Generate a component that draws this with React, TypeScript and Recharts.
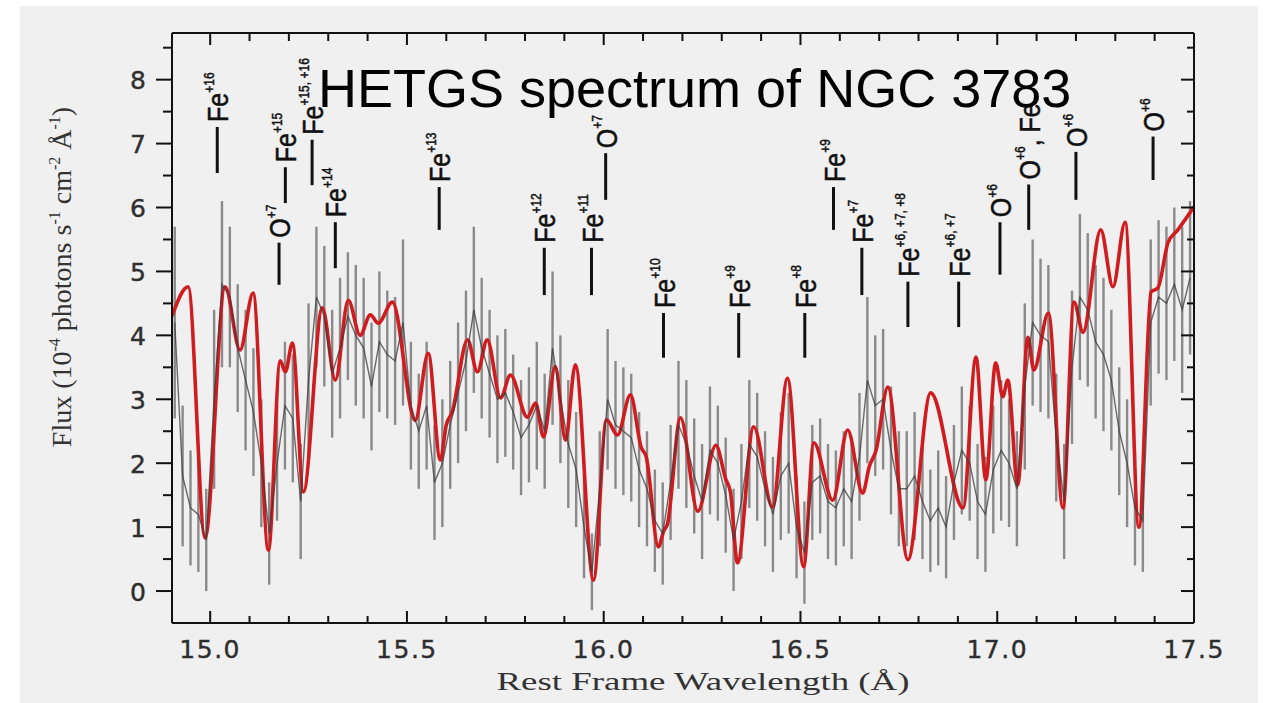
import { ComposedChart, ErrorBar, Line, ReferenceLine, XAxis, YAxis } from "recharts";

// measured spectrum, 0.02 A bins
const dataWave = [
  14.91, 14.93, 14.95, 14.97, 14.99, 15.01, 15.03, 15.05, 15.07, 15.09, 15.11, 15.13, 15.15, 15.17, 15.19, 15.21, 15.23, 15.25, 15.27, 15.29,
  15.31, 15.33, 15.35, 15.37, 15.39, 15.41, 15.43, 15.45, 15.47, 15.49, 15.51, 15.53, 15.55, 15.57, 15.59, 15.61, 15.63, 15.65, 15.67, 15.69,
  15.71, 15.73, 15.75, 15.77, 15.79, 15.81, 15.83, 15.85, 15.87, 15.89, 15.91, 15.93, 15.95, 15.97, 15.99, 16.01, 16.03, 16.05, 16.07, 16.09,
  16.11, 16.13, 16.15, 16.17, 16.19, 16.21, 16.23, 16.25, 16.27, 16.29, 16.31, 16.33, 16.35, 16.37, 16.39, 16.41, 16.43, 16.45, 16.47, 16.49,
  16.51, 16.53, 16.55, 16.57, 16.59, 16.61, 16.63, 16.65, 16.67, 16.69, 16.71, 16.73, 16.75, 16.77, 16.79, 16.81, 16.83, 16.85, 16.87, 16.89,
  16.91, 16.93, 16.95, 16.97, 16.99, 17.01, 17.03, 17.05, 17.07, 17.09, 17.11, 17.13, 17.15, 17.17, 17.19, 17.21, 17.23, 17.25, 17.27, 17.29,
  17.31, 17.33, 17.35, 17.37, 17.39, 17.41, 17.43, 17.45, 17.47, 17.49,
];
const dataFlux = [
  4.2, 1.8, 1.3, 1.2, 0.8, 3.0, 4.8, 4.6, 3.8, 3.3, 2.8, 2.0, 0.9, 2.0, 2.9, 2.7, 1.4, 3.3, 4.6, 4.3,
  3.4, 3.8, 4.3, 4.0, 3.8, 3.2, 3.9, 3.7, 3.6, 4.2, 2.9, 2.5, 2.9, 1.7, 2.0, 2.6, 3.1, 3.6, 4.4, 3.8,
  3.4, 3.0, 3.1, 2.8, 2.4, 2.6, 2.9, 2.5, 3.8, 3.0, 2.3, 1.9, 1.0, 0.3, 1.6, 3.0, 2.6, 2.5, 2.4, 1.9,
  1.6, 1.1, 0.9, 1.7, 2.6, 2.3, 1.8, 1.4, 2.2, 2.0, 1.5, 0.8, 1.4, 2.3, 2.1, 1.6, 1.2, 1.8, 2.0, 1.0,
  0.6, 1.7, 1.8, 1.4, 1.3, 1.6, 1.4, 2.1, 3.3, 2.9, 3.0, 2.2, 1.6, 1.6, 1.8, 1.4, 1.1, 1.3, 1.0, 1.7,
  2.2, 2.0, 1.4, 1.2, 1.9, 2.2, 2.0, 1.6, 3.2, 4.2, 4.0, 3.9, 2.4, 1.4, 3.5, 4.6, 4.4, 3.9, 3.7, 3.3,
  2.5, 2.0, 1.3, 1.1, 4.2, 4.6, 4.5, 4.8, 4.4, 4.9,
];
const dataErr = [
  1.5, 1.1, 0.9, 0.9, 0.8, 1.4, 1.3, 1.1, 1.0, 1.1, 1.0, 1.0, 0.8, 0.9, 1.0, 1.0, 0.9, 1.2, 1.1, 1.1,
  1.0, 1.1, 1.0, 1.1, 1.1, 1.0, 1.1, 1.0, 1.0, 1.3, 1.0, 0.9, 1.0, 0.9, 1.0, 1.0, 1.1, 1.1, 1.3, 1.1,
  1.0, 1.0, 1.0, 0.9, 0.9, 0.9, 1.0, 0.9, 1.2, 1.0, 1.0, 0.9, 0.8, 0.6, 0.9, 1.1, 1.0, 1.0, 1.0, 0.9,
  0.9, 0.8, 0.8, 0.9, 1.0, 1.0, 0.9, 0.9, 1.0, 0.9, 0.9, 0.8, 0.9, 1.0, 1.0, 0.9, 0.9, 1.0, 1.1, 0.8,
  0.8, 0.9, 0.9, 0.9, 0.9, 0.9, 0.9, 1.0, 1.3, 1.1, 1.1, 1.0, 0.9, 0.9, 1.0, 0.9, 0.8, 0.9, 0.8, 0.9,
  1.0, 0.9, 0.9, 0.9, 1.0, 1.1, 1.0, 0.9, 1.3, 1.3, 1.2, 1.2, 1.0, 0.9, 1.2, 1.3, 1.2, 1.2, 1.2, 1.1,
  1.0, 1.0, 0.9, 0.8, 1.3, 1.2, 1.2, 1.2, 1.3, 1.2,
];

// absorption model (red curve)
const modelWave = [
  14.903, 14.944, 14.987, 15.038, 15.076, 15.109, 15.148, 15.178, 15.191, 15.209, 15.237, 15.285, 15.318, 15.351, 15.381, 15.407, 15.427,
  15.463, 15.521, 15.554, 15.585, 15.6, 15.615, 15.654, 15.679, 15.704, 15.738, 15.763, 15.806, 15.827, 15.847, 15.877, 15.903, 15.928,
  15.974, 16.007, 16.035, 16.068, 16.095, 16.108, 16.139, 16.152, 16.162, 16.195, 16.239, 16.285, 16.31, 16.322, 16.34, 16.381, 16.429,
  16.467, 16.508, 16.534, 16.582, 16.62, 16.658, 16.675, 16.692, 16.722, 16.773, 16.831, 16.913, 16.946, 16.971, 16.996, 17.014, 17.027,
  17.052, 17.078, 17.093, 17.13, 17.167, 17.195, 17.218, 17.263, 17.294, 17.325, 17.36, 17.391, 17.408, 17.434, 17.459, 17.5,
];
const modelFlux = [
  4.3, 4.76, 0.83, 4.76, 3.77, 4.66, 0.64, 3.6, 3.43, 3.88, 1.55, 4.43, 3.3, 4.55, 4.0, 4.32, 4.19,
  4.52, 2.67, 3.72, 2.05, 2.6, 2.8, 3.93, 3.43, 3.93, 3.02, 3.38, 2.72, 2.94, 2.41, 3.51, 2.36, 3.54,
  0.17, 2.68, 2.44, 3.07, 2.25, 2.1, 0.69, 0.93, 1.05, 2.71, 1.25, 2.28, 1.75, 1.55, 0.44, 2.57, 1.31,
  3.33, 0.38, 2.32, 1.42, 2.52, 1.53, 1.95, 2.2, 3.19, 0.49, 3.1, 1.3, 3.66, 1.74, 3.57, 3.04, 3.3,
  1.66, 3.97, 3.46, 4.35, 1.3, 4.52, 4.05, 5.65, 4.76, 5.77, 1.0, 4.68, 4.74, 5.45, 5.65, 6.01,
];

// ion identifications
const ionNames = ["Fe", "O", "Fe", "Fe", "Fe", "Fe", "Fe", "Fe", "O", "Fe", "Fe", "Fe", "Fe", "Fe", "Fe", "Fe", "O", "O", "O", "O"];
const ionCharges = ["+16", "+7", "+15", "+15, +16", "+14", "+13", "+12", "+11", "+7", "+10", "+9", "+8", "+9", "+7", "+6, +7, +8", "+6, +7", "+6", "+6", "+6", "+6"];
const ionSuffix = ["", "", "", "", "", "", "", "", "", "", "", "", "", "", "", "", "", ", Fe", "", ""];
const ionWaves = [15.018, 15.175, 15.191, 15.259, 15.318, 15.582, 15.849, 15.969, 16.005, 16.152, 16.343, 16.511, 16.584, 16.656, 16.773, 16.902, 17.007, 17.08, 17.2, 17.396];
const ionTop = [7.26, 5.45, 6.63, 7.06, 5.77, 6.32, 5.37, 5.37, 6.85, 4.35, 4.35, 4.35, 6.32, 5.37, 4.84, 4.84, 5.77, 6.36, 6.87, 7.11];
const ionBottom = [6.54, 4.79, 6.07, 6.35, 5.05, 5.65, 4.63, 4.63, 6.12, 3.65, 3.65, 3.65, 5.65, 4.63, 4.13, 4.13, 4.95, 5.65, 6.12, 6.43];

const xTicks = [15.0, 15.1, 15.2, 15.3, 15.4, 15.5, 15.6, 15.7, 15.8, 15.9, 16.0, 16.1, 16.2, 16.3, 16.4, 16.5, 16.6, 16.7, 16.8, 16.9, 17.0, 17.1, 17.2, 17.3, 17.4, 17.5];
const yTicks = [0, 0.5, 1, 1.5, 2, 2.5, 3, 3.5, 4, 4.5, 5, 5.5, 6, 6.5, 7, 7.5, 8, 8.5];

const spectrum = dataWave.map((w, i) => ({ w, flux: dataFlux[i], err: dataErr[i] }));
const model = modelWave.map((w, i) => ({ w, flux: modelFlux[i] }));

const SANS = "'Liberation Sans', Arial, sans-serif";
const SERIF = "'Liberation Serif', 'Times New Roman', serif";
const TICKF = "'DejaVu Sans', sans-serif";
const INK = "#111";

const isMajorX = (v: number) => Math.abs(v * 2 - Math.round(v * 2)) < 1e-6;
const isMajorY = (v: number) => Math.abs(v - Math.round(v)) < 1e-6;

const BottomTick = ({ x, y, payload }: any) => {
  const major = isMajorX(payload.value);
  return (
    <g>
      <line x1={x} x2={x} y1={y} y2={y - (major ? 12 : 7)} stroke={INK} strokeWidth={2} />
      {major && (
        <text x={x} y={y + 35} textAnchor="middle" fontFamily={TICKF} fontSize={25} letterSpacing={1.5} fill="#2e2e2e" stroke="#2e2e2e" strokeWidth={0.4}>
          {payload.value.toFixed(1)}
        </text>
      )}
    </g>
  );
};

const TopTick = ({ x, y, payload }: any) => {
  const major = isMajorX(payload.value);
  return <line x1={x} x2={x} y1={y} y2={y + (major ? 12 : 8)} stroke={INK} strokeWidth={2} />;
};

const LeftTick = ({ x, y, payload }: any) => {
  const major = isMajorY(payload.value);
  return (
    <g>
      <line x1={x} x2={x - (major ? 16 : 9)} y1={y} y2={y} stroke={INK} strokeWidth={2} />
      {major && (
        <text x={x - 26} y={y + 9.5} textAnchor="end" fontFamily={TICKF} fontSize={25} fill="#2e2e2e" stroke="#2e2e2e" strokeWidth={0.4}>
          {payload.value}
        </text>
      )}
    </g>
  );
};

const RightTick = ({ x, y, payload }: any) => {
  const major = isMajorY(payload.value);
  return <line x1={x} x2={x - (major ? 13 : 7)} y1={y} y2={y} stroke={INK} strokeWidth={2} />;
};

function ionLabel(i: number) {
  return (p: any) => {
    const vb = p.viewBox || {};
    const x = vb.x ?? 0;
    const yTop = vb.y ?? 0;
    return (
      <text
        transform={`translate(${x + 11},${yTop - 5}) rotate(-90) scale(1,1.2)`}
        fontFamily={SANS}
        fontSize={25}
        fill={INK}
        stroke={INK}
        strokeWidth={0.4}
      >
        {ionNames[i]}
        <tspan fontSize={12} dy={-12}>{ionCharges[i]}</tspan>
        {ionSuffix[i] && <tspan fontSize={25} dy={12}>{ionSuffix[i]}</tspan>}
      </text>
    );
  };
}

export default function App() {
  return (
    <div style={{ position: "relative", width: 1263, height: 703, background: "#fff", overflow: "hidden" }}>
      <style>{"body{margin:0}"}</style>
      <div style={{ position: "absolute", left: 20, top: 6, width: 1238, height: 697, background: "#f0f0f0" }} />
      <div style={{ position: "absolute", left: 0, top: 0 }}>
        <ComposedChart width={1263} height={703} margin={{ top: 23, right: 59, bottom: 40, left: 112 }}>
          <XAxis
            dataKey="w"
            type="number"
            domain={[14.903, 17.5]}
            allowDataOverflow
            ticks={xTicks}
            interval={0}
            height={40}
            tickSize={0}
            tickMargin={0}
            tickLine={false}
            axisLine={{ stroke: INK, strokeWidth: 2 }}
            tick={<BottomTick />}
          />
          <XAxis
            xAxisId="top"
            orientation="top"
            dataKey="w"
            type="number"
            domain={[14.903, 17.5]}
            allowDataOverflow
            ticks={xTicks}
            interval={0}
            height={10}
            tickSize={0}
            tickMargin={0}
            tickLine={false}
            axisLine={{ stroke: INK, strokeWidth: 2 }}
            tick={<TopTick />}
          />
          <YAxis
            type="number"
            domain={[-0.5, 8.73]}
            allowDataOverflow
            ticks={yTicks}
            interval={0}
            width={60}
            tickSize={0}
            tickMargin={0}
            tickLine={false}
            axisLine={{ stroke: INK, strokeWidth: 2 }}
            tick={<LeftTick />}
          />
          <YAxis
            yAxisId="right"
            orientation="right"
            type="number"
            domain={[-0.5, 8.73]}
            allowDataOverflow
            ticks={yTicks}
            interval={0}
            width={10}
            tickSize={0}
            tickMargin={0}
            tickLine={false}
            axisLine={{ stroke: INK, strokeWidth: 2 }}
            tick={<RightTick />}
          />
          {/* error bars of the measured spectrum */}
          <Line data={spectrum} dataKey="flux" type="linear" stroke="none" dot={false} isAnimationActive={false}>
            <ErrorBar dataKey="err" direction="y" width={0} stroke="#8a8a8a" strokeWidth={2.4} />
          </Line>
          <Line
            xAxisId="top"
            yAxisId="right"
            data={model}
            dataKey="flux"
            type="monotone"
            stroke="#d01b1f"
            strokeWidth={3.6}
            dot={false}
            isAnimationActive={false}
          />
          <Line data={spectrum} dataKey="flux" type="linear" stroke="#3c3c3c" strokeOpacity={0.75} strokeWidth={1.4} dot={false} isAnimationActive={false} />
          {ionWaves.map((w, i) => (
            <ReferenceLine
              key={i}
              segment={[{ x: w, y: ionTop[i] }, { x: w, y: ionBottom[i] }]}
              stroke={INK}
              strokeWidth={3}
              label={ionLabel(i)}
            />
          ))}
        </ComposedChart>
      </div>
      <svg width={1263} height={703} style={{ position: "absolute", left: 0, top: 0, pointerEvents: "none" }}>
        <text x={318} y={107} fontFamily={SANS} fontSize={54} fill="#000">HETGS spectrum of NGC 3783</text>
        <text transform="translate(71,277) rotate(-90)" textAnchor="middle" fontFamily={SERIF} fontSize={28} fill="#333">
          Flux (10<tspan fontSize={16} dy={-11}>-4</tspan>
          <tspan dy={11}> photons s</tspan>
          <tspan fontSize={16} dy={-11}>-1</tspan>
          <tspan dy={11}> cm</tspan>
          <tspan fontSize={16} dy={-11}>-2</tspan>
          <tspan dy={11}> Å</tspan>
          <tspan fontSize={16} dy={-11}>-1</tspan>
          <tspan dy={11}>)</tspan>
        </text>
        <text x={703} y={690} textAnchor="middle" fontFamily={SERIF} fontSize={25} fill="#333" textLength={413} lengthAdjust="spacingAndGlyphs">
          Rest Frame Wavelength (Å)
        </text>
      </svg>
    </div>
  );
}
